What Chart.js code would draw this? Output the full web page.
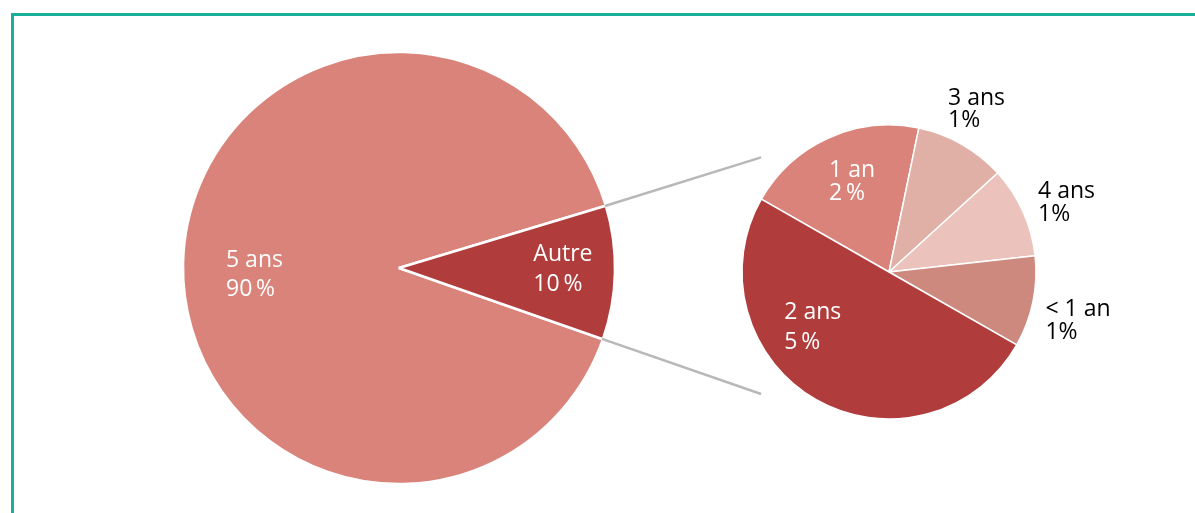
<!DOCTYPE html>
<html>
<head>
<meta charset="utf-8">
<script src="https://cdn.jsdelivr.net/npm/chart.js@4/dist/chart.umd.min.js"></script>
<style>
  html, body { margin:0; padding:0; background:#ffffff; }
  body { width:1195px; height:513px; position:relative; overflow:hidden; }
  #frame { position:absolute; left:11px; top:13px; width:1300px; height:600px; border:3px solid #1AAF9A; box-sizing:border-box; }
  canvas { position:absolute; left:0; top:0; }
  #c2 { pointer-events:none; }
</style>
</head>
<body>
<div id="frame"></div>
<canvas id="c1" width="1195" height="513"></canvas>
<canvas id="c2" width="1195" height="513"></canvas>
<script>
// ---- data ----
const mainLabels = ["5 ans", "Autre"];
const mainValues = [90, 10];
const mainPctText = ["90\u2009%", "10\u2009%"];
const mainColors = ["#DA837A", "#B03C3C"];

const subLabels = ["1 an", "3 ans", "4 ans", "< 1 an", "2 ans"];
const subValues = [2, 1, 1, 1, 5];
const subPctText = ["2\u2009%", "1%", "1%", "1%", "5\u2009%"];
const subColors = ["#DA837A", "#E0AFA6", "#EBC3BC", "#CD897E", "#B03C3C"];

// label layout (relative to pie centre, in units of radius): left/baseline of first line
const WHITE_FONT = "23px 'Open Sans'";
const BLACK_FONT = "500 23px 'Open Sans'";
const mainLabelLayout = [
  { fx: -0.801, fy: -0.006, gap: 29.5, color: "#ffffff", font: WHITE_FONT },
  { fx: 0.622, fy: -0.031, gap: 29.5, color: "#ffffff", font: WHITE_FONT }
];
const subLabelLayout = [
  { fx: -0.408, fy: -0.648, gap: 23.4, color: "#ffffff", font: WHITE_FONT },
  { fx: 0.402, fy: -1.139, gap: 22.5, color: "#000000", font: BLACK_FONT },
  { fx: 1.014, fy: -0.505, gap: 23.4, color: "#000000", font: BLACK_FONT },
  { fx: 1.064, fy: 0.301, gap: 22.7, color: "#000000", font: BLACK_FONT },
  { fx: -0.712, fy: 0.317, gap: 30, color: "#ffffff", font: WHITE_FONT }
];

function labelPlugin(labels, pcts, layout) {
  return {
    id: 'sliceLabels',
    afterDatasetsDraw(chart) {
      const ctx = chart.ctx;
      const meta = chart.getDatasetMeta(0);
      meta.data.forEach((arc, i) => {
        const p = arc.getProps(['x', 'y', 'outerRadius'], true);
        const L = layout[i];
        const x = p.x + L.fx * p.outerRadius;
        const y = p.y + L.fy * p.outerRadius;
        ctx.save();
        ctx.font = L.font;
        ctx.fillStyle = L.color;
        ctx.textAlign = 'left';
        ctx.textBaseline = 'alphabetic';
        ctx.fillText(labels[i], x, y);
        ctx.fillText(pcts[i], x, y + L.gap);
        ctx.restore();
      });
    }
  };
}

const W = 1195, H = 513;
const mainCenter = { x: 399, y: 268 };
const subCenter = { x: 889, y: 272 };

const mainChart = new Chart(document.getElementById('c1'), {
  type: 'pie',
  data: {
    labels: mainLabels,
    datasets: [{
      data: mainValues,
      backgroundColor: mainColors,
      borderColor: '#ffffff',
      borderWidth: 2.5,
      radius: 216
    }]
  },
  options: {
    responsive: false,
    animation: false,
    devicePixelRatio: 1,
    rotation: 109.25,
    layout: { padding: { left: 0, right: W - 2 * mainCenter.x, top: 2 * mainCenter.y - H, bottom: 0 } },
    plugins: { legend: { display: false }, tooltip: { enabled: false } }
  },
  plugins: [labelPlugin(mainLabels, mainPctText, mainLabelLayout)]
});

const connectorPlugin = {
  id: 'connectors',
  afterDatasetsDraw(chart) {
    const ctx = chart.ctx;
    const src = mainChart.getDatasetMeta(0).data[1].getProps(['x', 'y', 'startAngle', 'endAngle', 'outerRadius'], true);
    const dst = chart.getDatasetMeta(0).data[0].getProps(['x', 'y', 'outerRadius'], true);
    const r0 = src.outerRadius - 1;
    const p1 = { x: src.x + r0 * Math.cos(src.startAngle), y: src.y + r0 * Math.sin(src.startAngle) };
    const p2 = { x: src.x + r0 * Math.cos(src.endAngle), y: src.y + r0 * Math.sin(src.endAngle) };
    const q1 = { x: dst.x - 0.87 * dst.outerRadius, y: dst.y - 0.78 * dst.outerRadius };
    const q2 = { x: dst.x - 0.87 * dst.outerRadius, y: dst.y + 0.83 * dst.outerRadius };
    ctx.save();
    ctx.strokeStyle = '#B8B8B8';
    ctx.lineWidth = 2.5;
    ctx.beginPath();
    ctx.moveTo(p1.x, p1.y); ctx.lineTo(q1.x, q1.y);
    ctx.moveTo(p2.x, p2.y); ctx.lineTo(q2.x, q2.y);
    ctx.stroke();
    ctx.restore();
  }
};

const subChart = new Chart(document.getElementById('c2'), {
  type: 'pie',
  data: {
    labels: subLabels,
    datasets: [{
      data: subValues,
      backgroundColor: subColors,
      borderColor: '#ffffff',
      borderWidth: 1.5,
      radius: 147
    }]
  },
  options: {
    responsive: false,
    animation: false,
    devicePixelRatio: 1,
    rotation: 299.7,
    events: [],
    layout: { padding: { left: 2 * subCenter.x - W, right: 0, top: 2 * subCenter.y - H, bottom: 0 } },
    plugins: { legend: { display: false }, tooltip: { enabled: false } }
  },
  plugins: [connectorPlugin, labelPlugin(subLabels, subPctText, subLabelLayout)]
});
</script>
</body>
</html>
